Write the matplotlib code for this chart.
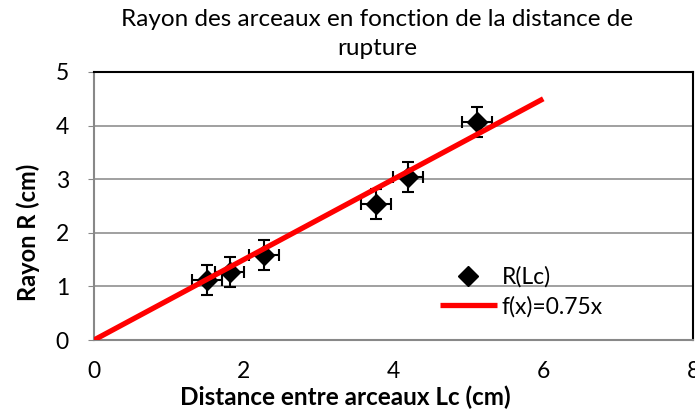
import matplotlib
matplotlib.use("Agg")
import matplotlib.pyplot as plt
import numpy as np

plt.rcParams['font.family'] = ['Lato', 'DejaVu Sans']

lc = [1.51, 1.81, 2.27, 3.76, 4.19, 5.12]
r = [1.12, 1.27, 1.59, 2.54, 3.04, 4.07]
xerr = [0.2, 0.2, 0.2, 0.2, 0.2, 0.2]
yerr = [0.28, 0.28, 0.28, 0.28, 0.28, 0.28]
fit_x = [0, 6]
slope = 0.75

fig = plt.figure(figsize=(6.95, 4.15), dpi=100)
ax = fig.add_axes([94/695, 75/415, 599/695, 268/415])

ax.set_xlim(0, 8)
ax.set_ylim(0, 5)
ax.set_yticks([0, 1, 2, 3, 4, 5])
ax.set_xticks([0, 2, 4, 6, 8])
ax.grid(axis='y', color='#999999', linewidth=1.3)
ax.set_axisbelow(True)

for s in ['left', 'bottom']:
    ax.spines[s].set_color('#888888')
    ax.spines[s].set_linewidth(1.5)
for s in ['top', 'right']:
    ax.spines[s].set_color('black')
    ax.spines[s].set_linewidth(1.5)

ax.tick_params(axis='y', length=4, color='#888888', labelsize=16.5, pad=14)
ax.tick_params(axis='x', length=0, labelsize=16.5, pad=15)

ax.errorbar(lc, r, xerr=xerr, yerr=yerr, fmt='none', ecolor='black',
            elinewidth=1.5, capsize=4, capthick=1.5, zorder=3)
ax.plot(lc, r, 'D', color='black', markersize=10, label='R(Lc)', zorder=4, clip_on=False)
fx = np.array(fit_x)
ax.plot(fx, slope * fx, color='#ff0000', linewidth=3.8, label='f(x)=0.75x', zorder=5,
        solid_capstyle='butt')

leg = ax.legend(frameon=False, loc='upper left', bbox_to_anchor=(0.562, 0.31),
                fontsize=16.5, handlelength=2.5, handletextpad=0.2, labelspacing=0.35,
                borderaxespad=0)

ax.set_xlabel('Distance entre arceaux Lc (cm)', fontsize=17.5, fontweight='bold', labelpad=0)
ax.xaxis.set_label_coords(0.42, -0.17)
ax.set_ylabel('Rayon R (cm)', fontsize=17, fontweight='bold')
ax.yaxis.set_label_coords(-0.09, 0.40)

fig.text(0.543, 0.952, 'Rayon des arceaux en fonction de la distance de', ha='center',
         va='center', fontsize=17.5)
fig.text(0.543, 0.884, 'rupture', ha='center', va='center', fontsize=17.5)

fig.savefig('out.png', dpi=100)
